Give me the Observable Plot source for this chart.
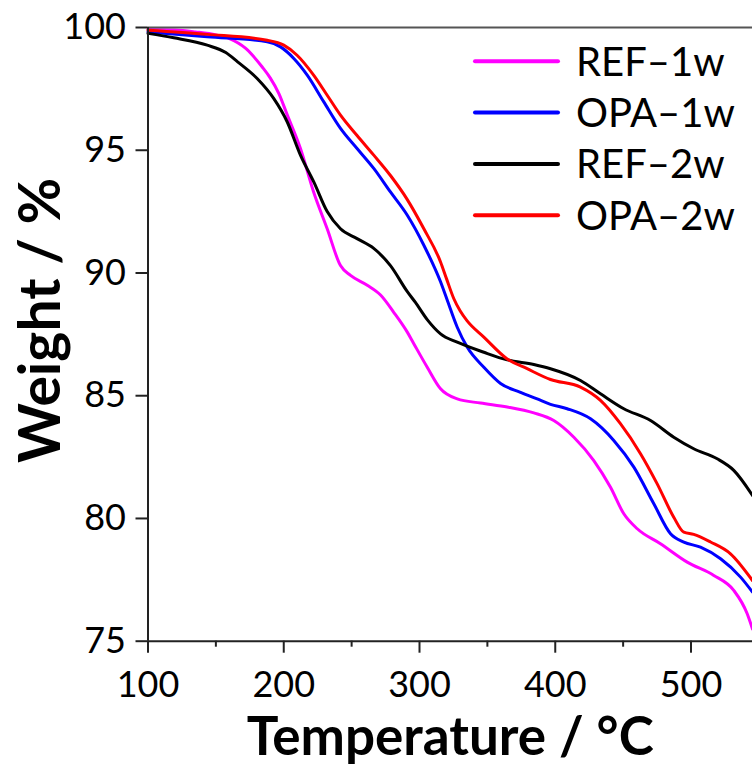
<!DOCTYPE html>
<html><head><meta charset="utf-8">
<script src="https://cdn.jsdelivr.net/npm/d3@7"></script>
<script src="https://cdn.jsdelivr.net/npm/@observablehq/plot@0.6"></script>
<style>
body{margin:0;background:#fff;}
#wrap{position:relative;width:752px;height:765px;overflow:hidden;font-family:Lato, sans-serif;}
#wrap svg.legend{position:absolute;left:0;top:0;pointer-events:none;}
</style></head><body><div id="wrap"></div>
<script>
const seriesNames = ["REF–1w", "OPA–1w", "REF–2w", "OPA–2w"];
const seriesColors = ["#ff00ff", "#0000ff", "#000000", "#ff0000"];

const ref1wT = [100,120,135,150,160,172,184,190,196.5,202.5,212.3,222,232,241.8,249.2,261.5,271.3,281,290.9,295.8,305.7,315.5,327.8,345,364.6,384.2,398.9,413.7,428.4,440.7,450.5,460.4,477.5,497.2,516.8,531.5,541.4,545.3];
const ref1wW = [99.92,99.9,99.82,99.7,99.55,99.15,98.4,97.95,97.3,96.45,95.07,93.3,91.8,90.3,89.9,89.5,89.1,88.4,87.6,87.12,86.16,85.28,84.87,84.7,84.54,84.3,83.99,83.31,82.36,81.27,80.19,79.58,78.97,78.22,77.68,77.07,76.12,75.5];

const opa1wT = [100,143.6,187.8,197.6,207.4,217.3,229.5,241.8,254,266.3,278.6,290.9,303.2,315.5,320.4,327.8,335.1,347.4,359.7,374.4,386.7,396.5,408.8,426,443.1,457.9,472.6,484.9,494.7,507,521.8,536.5,545.3];
const opa1wW = [99.82,99.62,99.42,99.21,98.74,98.06,96.97,95.89,95.07,94.26,93.3,92.36,91.13,89.64,88.9,87.79,86.98,86.16,85.5,85.14,84.87,84.65,84.47,84.06,83.18,82.09,80.6,79.38,79.04,78.83,78.36,77.61,77.0];

const ref2wT = [100,119,143.6,157.3,166,180.4,192.7,202.5,212.3,222.2,232,241.8,254,266.3,278.6,290.9,297,305.7,315.5,327.8,347.4,364.6,384.2,396.5,418.6,433.3,450.5,470.2,487.3,502,519.3,531.5,545.3];
const ref2wW = [99.76,99.58,99.28,98.98,98.6,97.92,97.1,96.16,94.8,93.7,92.5,91.8,91.4,91.0,90.3,89.25,88.8,88.1,87.52,87.18,86.77,86.46,86.27,86.1,85.62,85.08,84.47,83.99,83.31,82.84,82.43,81.96,80.94];

const opa2wT = [100,143.6,187.8,200,209.8,222,232,241.8,254,266.3,278.6,290.9,303.2,315.5,320,325.3,330,335.1,347.4,364.6,379.3,396.5,418.6,433.3,448,462.8,475.1,487.3,494.7,502,514.4,529.1,545.3];
const opa2wW = [99.89,99.72,99.48,99.28,98.87,98.06,97.24,96.43,95.6,94.8,93.97,93.0,91.8,90.45,89.75,88.95,88.45,88.05,87.39,86.5,86.1,85.66,85.35,84.81,83.86,82.64,81.41,80.05,79.44,79.35,79.04,78.56,77.47];

const xTicks = [100, 200, 300, 400, 500];
const xMinorTicks = [150, 250, 350, 450];
const yTicks = [75, 80, 85, 90, 95, 100];
const xTitle = "Temperature / °C";
const yTitle = "Weight / %";

const seriesT = [ref1wT, opa1wT, ref2wT, opa2wT];
const seriesW = [ref1wW, opa1wW, ref2wW, opa2wW];
const rows = [];
seriesNames.forEach((name, i) => {
  seriesT[i].forEach((t, j) => rows.push({series: name, T: t, W: seriesW[i][j]}));
});

const W = 752, H = 765;
const mL = 147.5, mT = 27, mB = 124.3;

const chart = Plot.plot({
  width: W, height: H,
  marginLeft: mL, marginRight: 0, marginTop: mT, marginBottom: mB,
  style: {fontFamily: "Lato, sans-serif", background: "white", color: "black", overflow: "visible"},
  x: {domain: [100, 545.3]},
  y: {domain: [75, 100]},
  color: {domain: seriesNames, range: seriesColors},
  marks: [
    Plot.lineY(rows, {x: "T", y: "W", z: "series", stroke: "series", strokeWidth: 3, curve: "monotone-x"}),
    Plot.ruleY([100], {stroke: "#555", strokeWidth: 2}),
    Plot.ruleX([100], {stroke: "#222", strokeWidth: 2}),
    Plot.ruleY([75], {stroke: "#222", strokeWidth: 2}),
    Plot.axisX({ticks: xTicks, tickSize: 12, tickPadding: 18, fontSize: 36, tickFormat: d => String(d), strokeWidth: 2, stroke: "#222", label: null}),
    Plot.axisX({ticks: xMinorTicks, tickSize: 6, tickFormat: () => "", strokeWidth: 2, stroke: "#222", label: null}),
    Plot.axisY({ticks: yTicks, tickSize: 12, tickPadding: 10, fontSize: 36, tickFormat: d => String(d), strokeWidth: 2, stroke: "#222", label: null}),
    Plot.text([xTitle], {frameAnchor: "bottom", lineAnchor: "middle", textAnchor: "middle", dy: 97, fontSize: 53, fontWeight: "bold", fill: "black"}),
    Plot.text([yTitle], {frameAnchor: "left", lineAnchor: "middle", textAnchor: "middle", dx: -106, dy: -14, rotate: -90, fontSize: 57, fontWeight: "bold", fill: "black"})
  ]
});
const wrap = document.getElementById("wrap");
wrap.appendChild(chart);

// legend overlay
const leg = d3.select(wrap).append("svg").attr("class", "legend").attr("width", W).attr("height", H);
seriesNames.forEach((name, i) => {
  const y = 61.3 + i * 51.3;
  leg.append("line").attr("x1", 475).attr("x2", 558).attr("y1", y).attr("y2", y)
    .attr("stroke", seriesColors[i]).attr("stroke-width", 4).attr("stroke-linecap", "round");
  leg.append("text").attr("x", 576).attr("y", y + 14.5).attr("font-size", 40)
    .attr("font-family", "Lato, sans-serif").attr("fill", "black").text(name);
});
</script></body></html>
